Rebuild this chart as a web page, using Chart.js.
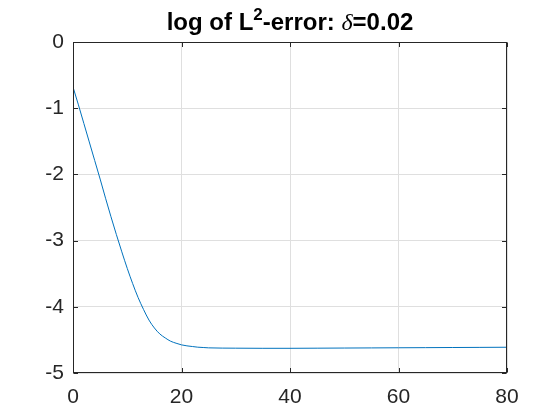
<!DOCTYPE html>
<html>
<head>
<meta charset="utf-8">
<script src="https://cdn.jsdelivr.net/npm/chart.js@4"></script>
<style>
html,body{margin:0;padding:0;background:#fff;}
#wrap{width:560px;height:420px;position:relative;}
</style>
</head>
<body>
<div id="wrap"><canvas id="c" width="560" height="420"></canvas></div>
<script>
// ---- data ----
const iterations = [0,1,2,3,4,5,6,7,8,9,10,11,12,13,14,15,16,17,18,19,20,21,22,23,24,25,30,35,40,45,50,55,60,65,70,75,80];
const logError = [-0.68,-0.95,-1.23,-1.51,-1.79,-2.07,-2.36,-2.64,-2.91,-3.17,-3.42,-3.65,-3.86,-4.04,-4.20,-4.32,-4.41,-4.47,-4.52,-4.55,-4.575,-4.59,-4.60,-4.61,-4.615,-4.62,-4.625,-4.627,-4.627,-4.625,-4.623,-4.621,-4.619,-4.617,-4.615,-4.613,-4.611];
const xTicks = [0,20,40,60,80];
const yTicks = [0,-1,-2,-3,-4,-5];
const titleParts = [
  {text:'log of L', style:'bold'},
  {text:'2', style:'sup'},
  {text:'-error: ', style:'bold'},
  {text:'δ', style:'greek'},
  {text:'=0.02', style:'bold'}
];

const INK = '#262626';
const FONT = '"Liberation Sans", Arial, Helvetica, sans-serif';
const TICK_SIZE = 21;
const TITLE_SIZE = 24;

const framePlugin = {
  id: 'frame',
  afterDraw(chart) {
    const ctx = chart.ctx, a = chart.chartArea;
    const xs = chart.scales.x, ys = chart.scales.y;
    ctx.save();
    ctx.strokeStyle = INK;
    ctx.lineWidth = 1;
    const L = Math.round(a.left)+0.5, R = Math.round(a.right)-0.5, T = Math.round(a.top)+0.5, B = Math.round(a.bottom)-0.5;
    ctx.strokeRect(L, T, R-L, B-T);
    ctx.beginPath();
    const tl = 4.5;
    xTicks.forEach(v => {
      const px = Math.round(xs.getPixelForValue(v))+0.5;
      ctx.moveTo(px, B); ctx.lineTo(px, B-tl);
      ctx.moveTo(px, T); ctx.lineTo(px, T+tl);
    });
    yTicks.forEach(v => {
      const py = Math.round(ys.getPixelForValue(v))+0.5;
      ctx.moveTo(L, py); ctx.lineTo(L+tl, py);
      ctx.moveTo(R, py); ctx.lineTo(R-tl, py);
    });
    ctx.stroke();

    // title with superscript and greek letter
    const fontFor = s => {
      if (s === 'sup') return 'bold 17px ' + FONT;
      if (s === 'greek') return 'italic ' + TITLE_SIZE + 'px "Liberation Serif", "DejaVu Serif", serif';
      return 'bold ' + TITLE_SIZE + 'px ' + FONT;
    };
    let total = 0;
    titleParts.forEach(p => { ctx.font = fontFor(p.style); p.w = ctx.measureText(p.text).width; total += p.w; });
    let x = (a.left + a.right)/2 - total/2;
    const base = 30;
    ctx.fillStyle = '#000';
    ctx.textBaseline = 'alphabetic';
    ctx.textAlign = 'left';
    titleParts.forEach(p => {
      ctx.font = fontFor(p.style);
      ctx.fillText(p.text, x, p.style === 'sup' ? base - 10 : base);
      x += p.w;
    });
    ctx.restore();
  }
};

new Chart(document.getElementById('c'), {
  type: 'line',
  data: {
    datasets: [{
      data: iterations.map((v,i) => ({x: v, y: logError[i]})),
      borderColor: '#0072BD',
      borderWidth: 1,
      pointRadius: 0,
      fill: false,
      cubicInterpolationMode: 'monotone'
    }]
  },
  options: {
    responsive: false,
    animation: false,
    layout: { padding: { top: 42, right: 53, left: 0, bottom: 0 } },
    plugins: { legend: { display: false }, tooltip: { enabled: false }, title: { display: false } },
    scales: {
      x: {
        type: 'linear', min: 0, max: 80,
        afterFit(s) { s.height = 47; },
        afterBuildTicks(s) { s.ticks = xTicks.map(v => ({value: v})); },
        grid: { color: '#dfdfdf', drawTicks: false, lineWidth: 1 },
        border: { display: false },
        ticks: { color: INK, font: { family: FONT, size: TICK_SIZE }, padding: 12, maxRotation: 0 }
      },
      y: {
        type: 'linear', min: -5, max: 0,
        afterFit(s) { s.width = 73; },
        afterBuildTicks(s) { s.ticks = yTicks.map(v => ({value: v})); },
        grid: { color: '#dfdfdf', drawTicks: false, lineWidth: 1 },
        border: { display: false },
        ticks: { color: INK, font: { family: FONT, size: TICK_SIZE }, padding: 9 }
      }
    }
  },
  plugins: [framePlugin]
});
</script>
</body>
</html>
